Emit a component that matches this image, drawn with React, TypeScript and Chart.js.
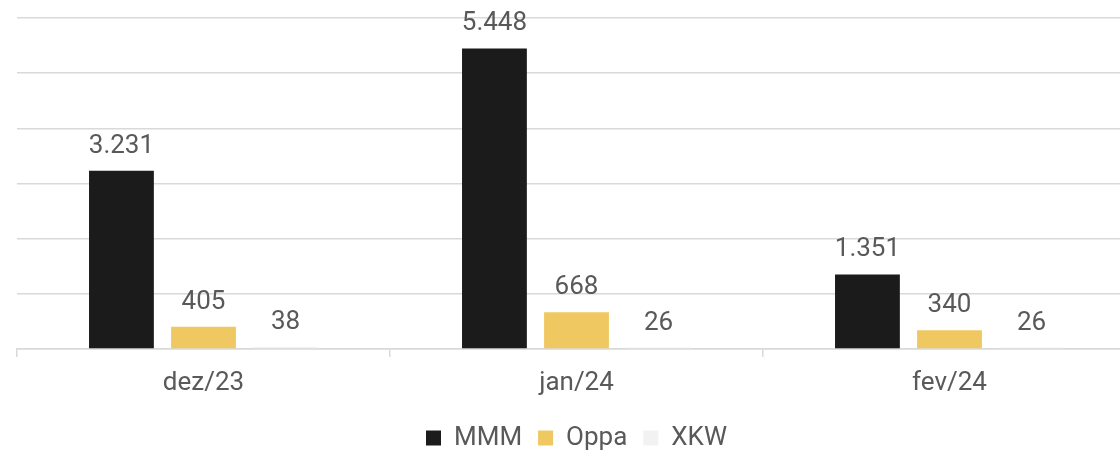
import React, { useEffect, useRef } from "react";
import { Chart, registerables } from "chart.js";

Chart.register(...registerables);

const categories = ["dez/23", "jan/24", "fev/24"];
const mmmValues = [3231, 5448, 1351];
const oppaValues = [405, 668, 340];
const xkwValues = [38, 26, 26];
const seriesNames = ["MMM", "Oppa", "XKW"];

function fmt(v: number): string {
  return String(v).replace(/\B(?=(\d{3})+(?!\d))/g, ".");
}

const labelPlugin = {
  id: "barLabels",
  afterDatasetsDraw(chart: any) {
    const ctx = chart.ctx;
    ctx.save();
    ctx.font = "26px Roboto";
    ctx.fillStyle = "#595959";
    ctx.textAlign = "center";
    ctx.textBaseline = "alphabetic";
    chart.data.datasets.forEach((ds: any, i: number) => {
      const meta = chart.getDatasetMeta(i);
      meta.data.forEach((bar: any, j: number) => {
        ctx.fillText(fmt(ds.data[j]), bar.x, bar.y - 18);
      });
    });
    ctx.restore();
  },
};

export default function App() {
  const ref = useRef<HTMLCanvasElement>(null);
  useEffect(() => {
    const chart = new Chart(ref.current!, {
      type: "bar",
      data: {
        labels: categories,
        datasets: [
          { label: seriesNames[0], data: mmmValues, backgroundColor: "#1b1b1b" },
          { label: seriesNames[1], data: oppaValues, backgroundColor: "#f0c862" },
          { label: seriesNames[2], data: xkwValues, backgroundColor: "#f2f2f2" },
        ],
      },
      options: {
        animation: false,
        responsive: false,
        maintainAspectRatio: false,
        layout: { padding: { top: 18, left: 17, right: 0, bottom: 0 } },
        datasets: { bar: { barPercentage: 0.79, categoryPercentage: 0.66 } },
        plugins: {
          legend: {
            position: "bottom",
            labels: {
              boxWidth: 15,
              boxHeight: 15,
              color: "#595959",
              font: { family: "Roboto", size: 26 },
              padding: 16,
            },
          },
          tooltip: { enabled: false },
        },
        scales: {
          x: {
            afterFit: (scale: any) => {
              scale.height = 60;
            },
            grid: {
              offset: true,
              drawOnChartArea: false,
              drawTicks: true,
              tickLength: 8,
              color: "#d9d9d9",
              lineWidth: 1.5,
            },
            border: { display: true, color: "#d9d9d9", width: 1.5 },
            ticks: {
              color: "#595959",
              font: { family: "Roboto", size: 26 },
              padding: 11,
            },
          },
          y: {
            min: 0,
            max: 6000,
            ticks: { display: false, stepSize: 1000 },
            border: { display: false },
            grid: { color: "#d9d9d9", lineWidth: 1.5, drawTicks: false },
          },
        },
      },
      plugins: [labelPlugin],
    });
    return () => chart.destroy();
  }, []);
  return (
    <div style={{ position: "fixed", left: 0, top: 0, width: 1120, height: 450, overflow: "hidden", background: "#fff" }}>
      <canvas ref={ref} width={1136} height={461} style={{ display: "block" }} />
    </div>
  );
}
